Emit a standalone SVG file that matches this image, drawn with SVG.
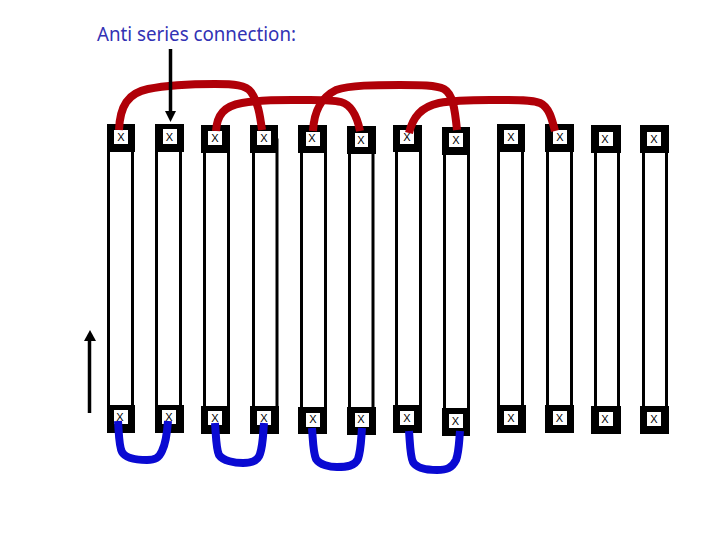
<svg xmlns="http://www.w3.org/2000/svg" width="720" height="540" viewBox="0 0 720 540">
<style>
.b{fill:#000}
.w{fill:#fff}
.s{fill:#fff;stroke:#000;stroke-width:3}
.x{font-family:"Liberation Sans",Arial,sans-serif;font-size:11px;fill:#000;text-anchor:middle}
.t{font-family:"Noto Sans","DejaVu Sans",sans-serif;font-size:19px;fill:#3232b4}
.red{fill:none;stroke:#b00008;stroke-width:8;stroke-linecap:butt;stroke-linejoin:round}
.blue{fill:none;stroke:#0a0ad2;stroke-width:8;stroke-linecap:butt;stroke-linejoin:round}
.a{fill:none;stroke:#000;stroke-width:3.500}
</style>
<rect width="720" height="540" fill="#fff"/>
<text class="t" x="97" y="41" textLength="199" lengthAdjust="spacingAndGlyphs">Anti series connection:</text>
<g id="n1"><rect class="s" x="108.500" y="140" width="24" height="280"/><rect class="b" x="107" y="124" width="28" height="28"/><rect class="w" x="114" y="130" width="14" height="14"/><text class="x" x="121" y="141">X</text><rect class="b" x="107" y="405" width="28" height="28"/><rect class="w" x="114" y="410" width="14" height="14"/><text class="x" x="120" y="421">X</text></g>
<g id="n2"><rect class="s" x="156.500" y="140" width="24" height="280"/><rect class="b" x="155" y="124" width="29" height="28"/><rect class="w" x="163" y="129" width="14" height="15"/><text class="x" x="169.500" y="141">X</text><rect class="b" x="155" y="405" width="29" height="28"/><rect class="w" x="162" y="410" width="14" height="14"/><text class="x" x="169" y="421">X</text></g>
<g id="n3"><rect class="s" x="204.500" y="140" width="24" height="280"/><rect class="b" x="201" y="125" width="29" height="28"/><rect class="w" x="208" y="131" width="14" height="14"/><text class="x" x="215" y="142">X</text><rect class="b" x="201" y="406" width="29" height="28"/><rect class="w" x="208" y="411" width="14" height="14"/><text class="x" x="215" y="422">X</text></g>
<g id="n4"><rect class="s" x="253.500" y="140" width="23.500" height="280"/><rect class="b" x="250" y="125" width="28" height="28"/><rect class="w" x="257" y="131" width="14" height="14"/><text class="x" x="264" y="142">X</text><rect class="b" x="250" y="406" width="29" height="28"/><rect class="w" x="257" y="411" width="14" height="14"/><text class="x" x="264" y="422">X</text></g>
<g id="n5"><rect class="s" x="301.500" y="140" width="24" height="280"/><rect class="b" x="298" y="125" width="29" height="28"/><rect class="w" x="306" y="132" width="14" height="14"/><text class="x" x="312" y="142">X</text><rect class="b" x="298" y="407" width="29" height="27"/><rect class="w" x="306" y="413" width="14" height="14"/><text class="x" x="313" y="423">X</text></g>
<g id="n6"><rect class="s" x="349.500" y="140" width="23.500" height="280"/><rect class="b" x="347" y="126" width="29" height="28"/><rect class="w" x="355" y="133" width="13" height="14"/><text class="x" x="361" y="144">X</text><rect class="b" x="347" y="407" width="29" height="28"/><rect class="w" x="355" y="413" width="14" height="14"/><text class="x" x="361" y="423">X</text></g>
<g id="n7"><rect class="s" x="396.500" y="140" width="24" height="280"/><rect class="b" x="393" y="125" width="29" height="27"/><rect class="w" x="400" y="130" width="14" height="14"/><text class="x" x="407" y="141">X</text><rect class="b" x="393" y="405" width="29" height="28"/><rect class="w" x="400" y="411" width="14" height="14"/><text class="x" x="407" y="422">X</text></g>
<g id="n8"><rect class="s" x="444.500" y="140" width="24" height="280"/><rect class="b" x="442" y="127" width="28" height="28"/><rect class="w" x="449" y="133" width="14" height="14"/><text class="x" x="456" y="144">X</text><rect class="b" x="442" y="408" width="28" height="28"/><rect class="w" x="449" y="414" width="14" height="14"/><text class="x" x="455.500" y="425">X</text></g>
<g id="n9"><rect class="s" x="498.500" y="140" width="24" height="280"/><rect class="b" x="497" y="124" width="28" height="28"/><rect class="w" x="504" y="130" width="14" height="14"/><text class="x" x="511" y="141">X</text><rect class="b" x="497" y="405" width="29" height="28"/><rect class="w" x="504" y="411" width="14" height="14"/><text class="x" x="511" y="422">X</text></g>
<g id="n10"><rect class="s" x="547.500" y="140" width="24" height="280"/><rect class="b" x="545" y="124" width="29" height="28"/><rect class="w" x="553" y="130" width="14" height="14"/><text class="x" x="560" y="141">X</text><rect class="b" x="545" y="405" width="29" height="28"/><rect class="w" x="553" y="411" width="14" height="14"/><text class="x" x="559.500" y="422">X</text></g>
<g id="n11"><rect class="s" x="595.500" y="140" width="23" height="280"/><rect class="b" x="591" y="125" width="30" height="28"/><rect class="w" x="599" y="132" width="14" height="14"/><text class="x" x="605" y="143">X</text><rect class="b" x="591" y="406" width="30" height="28"/><rect class="w" x="599" y="412" width="14" height="14"/><text class="x" x="605" y="423">X</text></g>
<g id="n12"><rect class="s" x="643.500" y="140" width="23" height="280"/><rect class="b" x="640" y="125" width="29" height="28"/><rect class="w" x="647" y="132" width="14" height="14"/><text class="x" x="654" y="143">X</text><rect class="b" x="640" y="406" width="29" height="28"/><rect class="w" x="647" y="412" width="14" height="14"/><text class="x" x="654" y="423">X</text></g>
<g id="connectors">
<path class="red" d="M119 130C120 106 128 93 148 89C168 85 192 84 215 84C234 84 246 85 251 92C258 102 260 115 262 130"/>
<path class="red" d="M216 131C217 115 224 106 242 103C258 100 275 100 292 100C312 100 330 99 341 102C352 105 357 116 360 131"/>
<path class="red" d="M313 131C314 112 320 98 336 90C350 85 375 85 400 85C420 85 436 85 444 89C453 94 455 110 457 130"/>
<path class="red" d="M409 133C413 117 421 107 439 103C455 100 472 100 490 100C510 100 530 99 540 103C549 107 552 119 555 131"/>
<path class="blue" d="M118 421C119 435 119 447 122 452C126 459 138 460 147 460C155 460 159 458 162 451C165 445 167 435 168 421"/>
<path class="blue" d="M215 423C216 435 216 449 219 455C223 461 235 463 243 463C252 463 258 461 260 454C263 445 263 435 264 423"/>
<path class="blue" d="M312 428C313 440 313 452 316 459C320 465 330 467 337 467C347 467 355 466 358 459C361 450 361 440 362 428"/>
<path class="blue" d="M409 431C410 442 410 456 413 462C417 469 428 470 437 470C447 470 452 468 456 460C459 452 459 442 460 431"/>
<path class="a" d="M170.500 49V114"/>
<polygon class="b" points="165,111 176,111 170.500,122"/>
<path class="a" d="M89.500 339V413"/>
<polygon class="b" points="84,341 96,341 90,330"/>
</g>
</svg>
